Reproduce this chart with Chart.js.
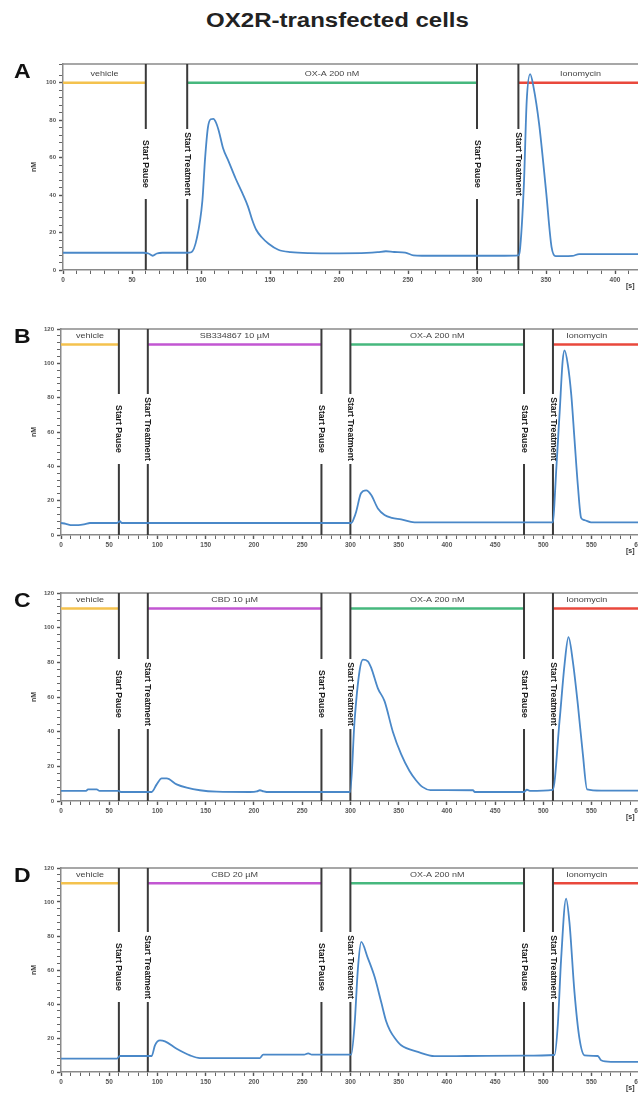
<!DOCTYPE html>
<html>
<head>
<meta charset="utf-8">
<script src="https://cdn.jsdelivr.net/npm/chart.js@4.4.1/dist/chart.umd.min.js"></script>
<style>
  html, body { margin: 0; padding: 0; background: #fff; overflow: hidden; }
  body { width: 638px; height: 1097px; position: relative; }
  #title { position: absolute; top: 9px; left: 0; width: 675px; text-align: center; }
  #title span { display: inline-block; font: bold 20px 'Liberation Sans', Arial, sans-serif; color: #222; transform: scaleX(1.2); }
  .panel { position: absolute; left: 0; }
</style>
</head>
<body>
<div id="title"><span>OX2R-transfected cells</span></div>
<div class="panel" style="top:44px; width:696px; height:250px"><canvas id="chartA"></canvas></div>
<div class="panel" style="top:309px; width:700px; height:250px"><canvas id="chartB"></canvas></div>
<div class="panel" style="top:573px; width:700px; height:252px"><canvas id="chartC"></canvas></div>
<div class="panel" style="top:848px; width:700px; height:248px"><canvas id="chartD"></canvas></div>
<script>
// time [s] and intracellular calcium [nM]
const secA = [0, 10, 20, 30, 40, 50, 58, 62, 65, 68, 72, 80, 90, 93, 97, 101, 103, 105, 107, 109, 111, 113, 116, 120, 125, 130, 134, 137, 140, 144, 149, 156, 165, 178, 200, 220, 228, 234, 240, 248, 254, 260, 280, 300, 320, 330, 331, 334, 336, 338.5, 341, 345, 350, 354, 357, 362, 369, 374, 390, 420, 450];
const nmA = [9.2, 9.2, 9.2, 9.2, 9.2, 9.2, 9.2, 8.8, 7.6, 8.8, 9.2, 9.2, 9.2, 9.5, 17, 37, 60, 76, 80.5, 80.7, 78.5, 74, 65, 58, 49, 41, 34, 27, 21.5, 17.5, 14, 10.8, 9.5, 9, 8.9, 9.1, 9.5, 10, 9.6, 9.3, 7.8, 7.6, 7.6, 7.6, 7.6, 7.8, 10, 46, 90, 104.6, 97.5, 78, 42.5, 12.4, 7.4, 7.4, 7.5, 8.5, 8.5, 8.5, 8.5];

const secB = [0, 5, 10, 18, 25, 30, 58, 61, 63, 66, 90, 150, 200, 250, 270, 300, 301, 303.5, 306, 311, 316.4, 321.6, 328.5, 335.4, 343, 352.6, 366.5, 400, 480, 510, 511.5, 513.3, 517, 520, 522, 525.5, 529, 532.3, 535.8, 539.2, 542.7, 549.5, 600, 650];
const nmB = [7, 6.5, 5.8, 5.7, 6.3, 7, 7, 8, 7, 7, 7, 7, 7, 7, 7, 7, 7, 9.5, 13.6, 24.3, 26, 23.3, 15.5, 11.7, 10, 9.1, 7.4, 7.4, 7.4, 7.4, 18, 37, 72, 101, 107.5, 99, 81.6, 56, 29, 10, 8.7, 7.4, 7.4, 7.4];

const secC = [0, 10, 20, 26, 28, 37, 40, 50, 60, 62, 80, 90, 94, 99.2, 104.4, 109.5, 119.9, 130.3, 144, 161.3, 195.9, 203, 206.2, 210, 213.2, 250, 270, 299.8, 304.3, 309.5, 313, 318.1, 321.6, 328.5, 335.4, 344, 352.6, 361.3, 368, 375, 383, 427, 429, 480, 483, 486, 509.8, 516.8, 522, 526.1, 530.6, 535.8, 541, 545.4, 560, 600, 650];
const nmC = [5.8, 5.8, 5.8, 5.8, 6.7, 6.7, 5.8, 5.8, 5.8, 5.2, 5.2, 5.2, 5.2, 9.6, 13, 13, 9.6, 7.7, 6.2, 5.4, 5.2, 5.5, 6.2, 5.5, 5.2, 5.2, 5.2, 5.2, 46, 75, 81.6, 80.6, 76.8, 65, 57.6, 40, 27, 17.3, 12, 8, 6.3, 6.2, 5.2, 5.2, 6.5, 5.8, 6.4, 46, 78.7, 94.5, 80.6, 55.7, 27, 6.7, 6, 6, 6];

const secD = [0, 20, 40, 58, 61, 70, 90, 94, 97.4, 102.6, 107.8, 119.9, 133.7, 144, 180, 206.2, 209.6, 230, 252, 256.3, 260, 280, 300.8, 304.3, 307.8, 311.2, 318.1, 325.1, 332, 337, 341, 346, 352.6, 370, 387.3, 420, 480, 511.6, 515, 518.5, 523.6, 527.1, 532.3, 537.5, 542.7, 556.5, 559.9, 570, 600, 650];
const nmD = [7.9, 7.9, 7.9, 7.9, 9.4, 9.4, 9.4, 9.4, 15.7, 18.6, 18, 13.7, 9.8, 8.2, 8.2, 8.2, 10.2, 10.2, 10.2, 11, 10.2, 10.2, 10.2, 27.5, 60.8, 76.5, 67, 56, 41, 30, 24.5, 20, 15.7, 11.8, 9.3, 9.4, 9.6, 10, 27.5, 66.7, 102, 88, 47, 19.6, 9.8, 9.4, 6.9, 6, 6, 6];

// protocol: pause / treatment marks and the substances applied
const pauseA = [60, 300];
const treatA = [90, 330];
const pauseBCD = [60, 270, 480];
const treatBCD = [90, 300, 510];
const phasesA = ['vehicle', 'OX-A 200 nM', 'Ionomycin'];
const phasesB = ['vehicle', 'SB334867 10 µM', 'OX-A 200 nM', 'Ionomycin'];
const phasesC = ['vehicle', 'CBD 10 µM', 'OX-A 200 nM', 'Ionomycin'];
const phasesD = ['vehicle', 'CBD 20 µM', 'OX-A 200 nM', 'Ionomycin'];
const colorsA = ['#f4c24e', '#46b87e', '#e9483c'];
const colorsBCD = ['#f4c24e', '#c256d2', '#46b87e', '#e9483c'];
const ionoLabelEndA = 420;
const ionoLabelEndBCD = 580;

const FONT = "'Liberation Sans', Arial, sans-serif";

const decor = {
  id: 'decor',
  beforeDatasetsDraw(chart, args, o) {
    const {ctx, chartArea: a, scales: {x, y}} = chart;
    ctx.save();
    // top frame line
    ctx.strokeStyle = '#8a8a8a';
    ctx.lineWidth = 1.5;
    ctx.beginPath();
    ctx.moveTo(a.left, a.top);
    ctx.lineTo(a.right, a.top);
    ctx.stroke();

    // substance bars
    const starts = [0, ...o.treat];
    const ends = [...o.pause, o.xMax];
    const by = y.getPixelForValue(o.barLevel);
    o.phases.forEach((name, i) => {
      ctx.strokeStyle = o.colors[i];
      ctx.lineWidth = 2.5;
      ctx.beginPath();
      ctx.moveTo(x.getPixelForValue(starts[i]), by);
      ctx.lineTo(x.getPixelForValue(ends[i]), by);
      ctx.stroke();
      const lastEnd = i === o.phases.length - 1 ? o.labelEnd : ends[i];
      ctx.save();
      ctx.translate(x.getPixelForValue((starts[i] + lastEnd) / 2), by - 8.5);
      ctx.scale(1.2, 1);
      ctx.fillStyle = '#444';
      ctx.font = '7.5px ' + FONT;
      ctx.textAlign = 'center';
      ctx.textBaseline = 'middle';
      ctx.fillText(name, 0, 0);
      ctx.restore();
    });

    // pause / treatment marks
    const mid = (a.top + a.bottom) / 2 - 3;
    const marks = [];
    o.pause.forEach(t => marks.push([t, 'Start Pause']));
    o.treat.forEach(t => marks.push([t, 'Start Treatment']));
    marks.forEach(([t, label]) => {
      const px = x.getPixelForValue(t);
      ctx.strokeStyle = '#3a3a3a';
      ctx.lineWidth = 2;
      ctx.beginPath();
      ctx.moveTo(px, a.top);
      ctx.lineTo(px, mid - 35);
      ctx.moveTo(px, mid + 35);
      ctx.lineTo(px, a.bottom);
      ctx.stroke();
      ctx.save();
      ctx.translate(px, mid);
      ctx.rotate(Math.PI / 2);
      ctx.fillStyle = '#1a1a1a';
      ctx.font = 'bold 8.7px ' + FONT;
      ctx.textAlign = 'center';
      ctx.textBaseline = 'middle';
      ctx.fillText(label, 0, 0);
      ctx.restore();
    });

    // panel letter, unit labels
    ctx.save();
    ctx.translate(14, a.top + 14);
    ctx.scale(1.15, 1);
    ctx.fillStyle = '#111';
    ctx.font = 'bold 20px ' + FONT;
    ctx.textAlign = 'left';
    ctx.textBaseline = 'alphabetic';
    ctx.fillText(o.letter, 0, 0);
    ctx.restore();

    ctx.save();
    ctx.translate(34, (a.top + a.bottom) / 2);
    ctx.rotate(-Math.PI / 2);
    ctx.font = 'bold 7px ' + FONT;
    ctx.fillStyle = '#333';
    ctx.textAlign = 'center';
    ctx.textBaseline = 'middle';
    ctx.fillText('nM', 0, 0);
    ctx.restore();

    ctx.font = 'bold 7px ' + FONT;
    ctx.fillStyle = '#333';
    ctx.textAlign = 'left';
    ctx.fillText('[s]', 626, a.bottom + 18);
    ctx.restore();
  }
};

function makeChart(id, sec, nm, o) {
  return new Chart(document.getElementById(id), {
    type: 'line',
    data: {
      datasets: [{
        data: sec.map((t, i) => ({x: t, y: nm[i]})),
        borderColor: '#4a88c8',
        borderWidth: 1.8,
        pointRadius: 0,
        cubicInterpolationMode: 'monotone'
      }]
    },
    options: {
      responsive: true,
      maintainAspectRatio: false,
      animation: false,
      layout: { padding: { top: 20, right: 12, left: 0, bottom: 0 } },
      plugins: { legend: { display: false }, tooltip: { enabled: false }, decor: o },
      scales: {
        x: {
          type: 'linear', min: 0, max: o.xMax,
          afterFit: s => { s.height = 24; },
          border: { color: '#8a8a8a', width: 1.5 },
          grid: { drawOnChartArea: false, tickLength: 4, color: '#555',
                  tickWidth: c => (c.tick && c.tick.value % 50 === 0) ? 1.4 : 0.9 },
          ticks: { stepSize: 10, autoSkip: false, maxRotation: 0, padding: 2, color: '#555',
                   font: { size: 6.5, weight: 'bold', family: FONT },
                   callback: v => v % 50 === 0 ? v : '' }
        },
        y: {
          min: 0, max: o.yMax,
          afterFit: s => { s.width = o.left; },
          border: { color: '#8a8a8a', width: 1.5 },
          grid: { drawOnChartArea: false, tickLength: 4, color: '#555',
                  tickWidth: c => (c.tick && c.tick.value % 20 === 0) ? 1.4 : 0.9 },
          ticks: { stepSize: 4, autoSkip: false, padding: 3, color: '#555',
                   font: { size: 6, weight: 'bold', family: FONT },
                   callback: v => v % 20 === 0 ? v : '' }
        }
      }
    },
    plugins: [decor]
  });
}

makeChart('chartA', secA, nmA, { letter: 'A', xMax: 450, yMax: 110, left: 63, barLevel: 100,
  pause: pauseA, treat: treatA, phases: phasesA, colors: colorsA, labelEnd: ionoLabelEndA });
makeChart('chartB', secB, nmB, { letter: 'B', xMax: 650, yMax: 120, left: 61, barLevel: 111,
  pause: pauseBCD, treat: treatBCD, phases: phasesB, colors: colorsBCD, labelEnd: ionoLabelEndBCD });
makeChart('chartC', secC, nmC, { letter: 'C', xMax: 650, yMax: 120, left: 61, barLevel: 111,
  pause: pauseBCD, treat: treatBCD, phases: phasesC, colors: colorsBCD, labelEnd: ionoLabelEndBCD });
makeChart('chartD', secD, nmD, { letter: 'D', xMax: 650, yMax: 120, left: 61, barLevel: 111,
  pause: pauseBCD, treat: treatBCD, phases: phasesD, colors: colorsBCD, labelEnd: ionoLabelEndBCD });
</script>
</body>
</html>
